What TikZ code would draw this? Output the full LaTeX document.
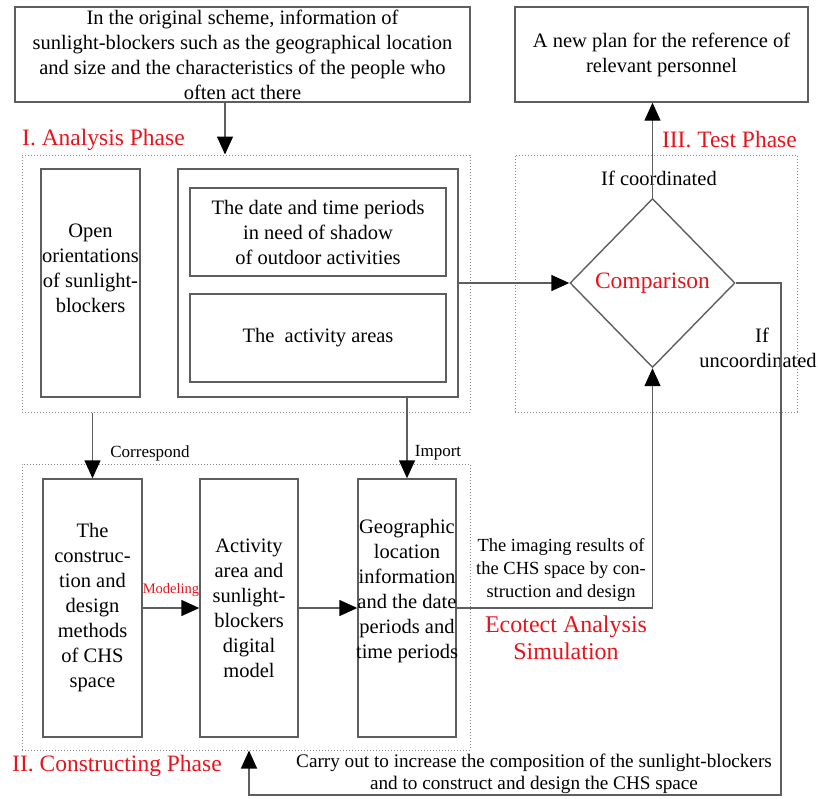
\documentclass[tikz,border=0pt]{standalone}
\usepackage{fontspec}
\setmainfont{Liberation Serif}
\usetikzlibrary{shapes.geometric,arrows.meta}
\definecolor{lgray}{HTML}{5E5E5E}
\definecolor{dgray}{HTML}{888888}
\definecolor{phred}{HTML}{E8141B}
\begin{document}
\begin{tikzpicture}[x=1pt,y=-1pt,
  box/.style={draw=lgray, line width=1.4pt, inner sep=0pt, align=center},
  dbox/.style={draw=dgray, line width=1pt, dotted, inner sep=0pt},
  txt/.style={font=\fontsize{20.5}{25}\selectfont, align=center, inner sep=0pt},
  smalltxt/.style={font=\fontsize{17}{20}\selectfont, inner sep=0pt},
  phase/.style={font=\fontsize{23.5}{28}\selectfont, text=phred, inner sep=0pt},
  conn/.style={draw=lgray, line width=1.4pt},
  arr/.style={conn, -{Triangle[length=18pt,width=16pt,color=black]}}
]
\useasboundingbox (0,0) rectangle (818,798);

% top boxes
\node[box, txt, minimum width=455pt, minimum height=95pt] (top) at (242.5,54.5)
  {In the original scheme, information of\\sunlight-blockers such as the geographical location\\and size and the characteristics of the people who\\often act there};
\node[box, txt, minimum width=293pt, minimum height=95pt] (tr) at (661.5,54.5)
  {A new plan for the reference of\\relevant personnel};

% analysis phase
\node[phase, anchor=west] (lab1) at (22,140) {I. Analysis Phase};
\node[dbox, minimum width=448pt, minimum height=257pt] (ana) at (246,283.5) {};
\node[box, minimum width=99pt, minimum height=228pt] (open) at (90.5,283) {};
\node[txt] (opent) at (90.5,268) {Open\\orientations\\of sunlight-\\blockers};
\node[box, minimum width=280pt, minimum height=228pt] (inner) at (318,283) {};
\node[box, txt, minimum width=256pt, minimum height=88pt] (date) at (318,232)
  {The date and time periods\\in need of shadow\\of outdoor activities};
\node[box, txt, minimum width=256pt, minimum height=88pt] (area) at (318,338)
  {The\ \ activity areas};

% test phase
\node[phase, anchor=east] (lab3) at (797,140) {III. Test Phase};
\node[dbox, minimum width=282pt, minimum height=257pt] (test) at (656,283.5) {};
\node[draw=lgray, line width=1.4pt, diamond, minimum width=165pt, minimum height=169pt, inner sep=0pt,
  font=\fontsize{23.5}{28}\selectfont, text=phred] (cmp) at (652.5,283) {Comparison};
\node[txt] (coord) at (659,178) {If coordinated};
\node[txt] (uncoord) at (758,348) {\hspace*{8pt}If\\uncoordinated};

% constructing phase
\node[dbox, minimum width=448pt, minimum height=286pt] (cons) at (246,607) {};
\node[box, txt, minimum width=99pt, minimum height=258pt] (b1) at (92.5,608)
  {The\\construc-\\tion and\\design\\methods\\of CHS\\space};
\node[box, txt, minimum width=98pt, minimum height=258pt] (b2) at (249,608)
  {Activity\\area and\\sunlight-\\blockers\\digital\\model};
\node[box, minimum width=98pt, minimum height=258pt] (b3) at (407,608) {};
\node[txt] (b3t) at (407,591)
  {Geographic\\location\\information\\and the date\\periods and\\time periods};
\node[phase, anchor=west] (lab2) at (12,766) {II. Constructing Phase};

% labels
\node[smalltxt] (corr) at (150,453) {Correspond};
\node[smalltxt] (imp) at (438,453) {Import};
\node[font=\fontsize{14.5}{17}\selectfont, text=phred, inner sep=0pt] (mod) at (171,590) {Modeling};
\node[font=\fontsize{18.5}{23}\selectfont, align=center, inner sep=0pt] (img) at (561,570)
  {The imaging results of\\the CHS space by con-\\struction and design};
\node[phase, align=center, font=\fontsize{24}{27}\selectfont] (eco) at (566,638) {Ecotect Analysis\\Simulation};
\node[font=\fontsize{19.2}{22}\selectfont, align=center, inner sep=0pt] (carry) at (534,774)
  {Carry out to increase the composition of the sunlight-blockers\\and to construct and design the CHS space};

% connectors
\coordinate (r1) at (781,795);
\draw[arr] ([xshift=-17.5pt]top.south) -- ([xshift=-17.5pt]top.south |- ana.north);
\draw[arr] (cmp.north) -- (cmp.north |- tr.south);
\draw[arr] (inner.east) -- (cmp.west);
\draw[arr] (b1.north |- ana.south) -- (b1.north);
\draw[arr] (b3.north |- inner.south) -- (b3.north);
\draw[arr] (b1.east) -- (b2.west);
\draw[arr] (b2.east) -- (b3.west);
\draw[arr] (b3.east) -| (cmp.south);
\draw[arr] (cmp.east) -| (r1) -| (b2.south |- cons.south);
\end{tikzpicture}
\end{document}
